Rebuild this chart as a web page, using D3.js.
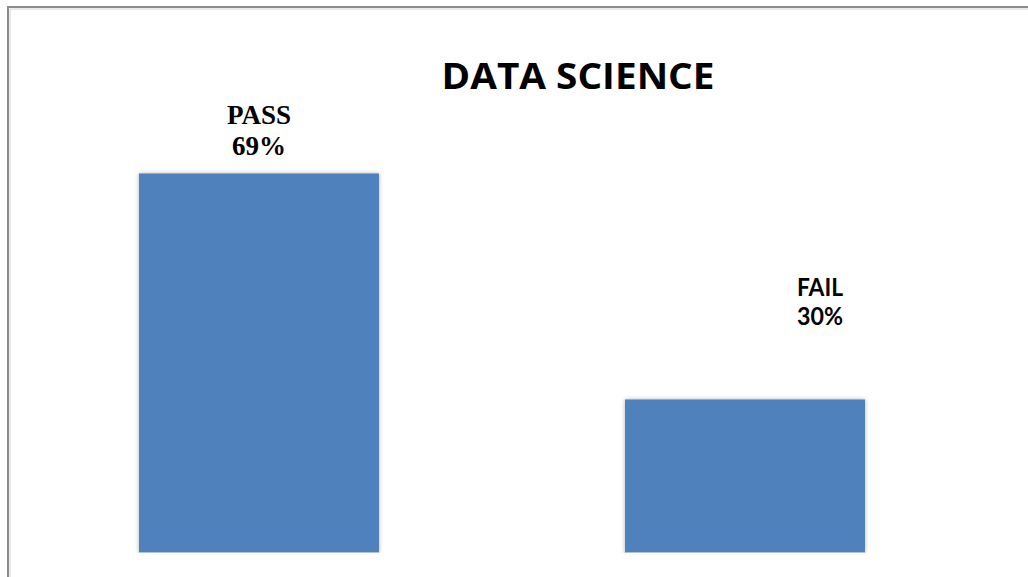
<!DOCTYPE html>
<html>
<head>
<meta charset="utf-8">
<script src="https://cdn.jsdelivr.net/npm/d3@7/dist/d3.min.js"></script>
<style>
  html, body { margin: 0; padding: 0; background: #fff; overflow: hidden; }
  svg { display: block; }
</style>
</head>
<body>
<svg id="chart" width="1028" height="577"></svg>
<script>
// ---- data ----
const categories = ["PASS", "FAIL"];
const values = [69, 30];
const labelTexts = ["69%", "30%"];
const chartTitle = "DATA SCIENCE";

// ---- layout ----
const W = 1028, H = 577;
const svg = d3.select("#chart");

const defs = svg.append("defs");
const f = defs.append("filter").attr("id", "shadow")
  .attr("x", "-5%").attr("y", "-5%").attr("width", "110%").attr("height", "110%");
f.append("feDropShadow").attr("dx", 0).attr("dy", 0).attr("stdDeviation", 2.2)
  .attr("flood-color", "#000").attr("flood-opacity", 0.3);
defs.append("clipPath").attr("id", "plotclip")
  .append("rect").attr("x", 0).attr("y", 0).attr("width", W).attr("height", 553);

// outer frame
svg.append("rect").attr("x", 8).attr("y", 7).attr("width", 1200).attr("height", 800)
  .attr("fill", "none").attr("stroke", "#8c8c8c").attr("stroke-width", 2);
svg.append("line").attr("x1", 10).attr("x2", 10).attr("y1", 9).attr("y2", H)
  .attr("stroke", "#d4d4d4").attr("stroke-width", 1);
svg.append("line").attr("x1", 10).attr("x2", W).attr("y1", 9).attr("y2", 9)
  .attr("stroke", "#d4d4d4").attr("stroke-width", 1);

const x = d3.scaleBand().domain(categories).range([16, 988])
  .paddingInner(0.506).paddingOuter(0.253);
const y = d3.scaleLinear().domain([3.5, 75]).range([553, 138.7]);

const data = categories.map((c, i) => ({ cat: c, val: values[i], lab: labelTexts[i] }));

const bars = svg.append("g").attr("clip-path", "url(#plotclip)");
bars.selectAll("rect.bar").data(data).enter().append("rect")
  .attr("class", "bar")
  .attr("x", d => x(d.cat))
  .attr("y", d => y(d.val))
  .attr("width", x.bandwidth())
  .attr("height", d => y(3.5) - y(d.val))
  .attr("fill", "#4f81bd")
  .attr("filter", "url(#shadow)");
bars.selectAll("line.bottom").data(data).enter().append("line")
  .attr("class", "bottom")
  .attr("x1", d => x(d.cat)).attr("x2", d => x(d.cat) + x.bandwidth())
  .attr("y1", 552.5).attr("y2", 552.5)
  .attr("stroke", "#a9c1e2").attr("stroke-width", 1);

// title
svg.append("text").attr("x", 578).attr("y", 88.5)
  .attr("text-anchor", "middle")
  .attr("font-family", "'Open Sans', Lato, sans-serif")
  .attr("font-weight", "bold").attr("font-size", 35.5)
  .attr("textLength", 273).attr("lengthAdjust", "spacingAndGlyphs")
  .attr("fill", "#000").text(chartTitle);

// data labels (category + value), manually-placed offsets as in the original
const labelStyle = [
  { family: "'Liberation Serif', 'Times New Roman', serif", size: 27, dx: 0, dy: -18, gap: 31, w: null },
  { family: "Lato, 'Open Sans', sans-serif", size: 24, dx: 75, dy: -74, gap: 29, w: [46, 46] }
];
data.forEach((d, i) => {
  const s = labelStyle[i];
  const cx = x(d.cat) + x.bandwidth() / 2 + s.dx;
  const base = y(d.val) + s.dy;
  const t = svg.append("text").attr("text-anchor", "middle")
    .attr("font-family", s.family).attr("font-weight", "bold")
    .attr("font-size", s.size).attr("fill", "#000");
  [d.cat, d.lab].forEach((txt, j) => {
    const ts = t.append("tspan").attr("x", cx).attr("y", j === 0 ? base - s.gap : base).text(txt);
    if (s.w) ts.attr("textLength", s.w[j]).attr("lengthAdjust", "spacingAndGlyphs");
  });
});
</script>
</body>
</html>
